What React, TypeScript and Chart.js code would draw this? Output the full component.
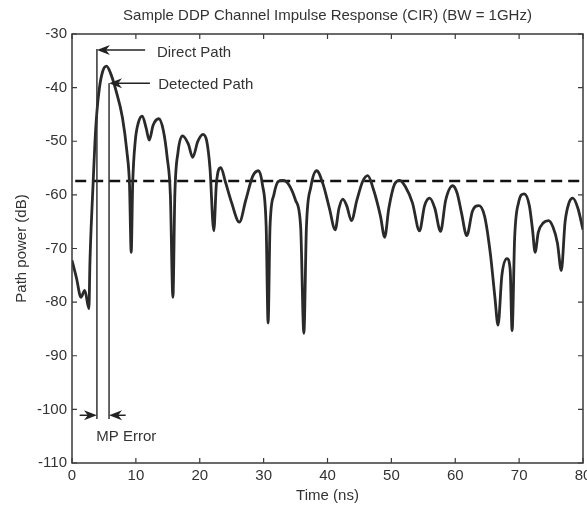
import React, { useEffect, useRef } from "react";
import { Chart, registerables } from "chart.js";

Chart.register(...registerables);

// ---- data ----
const timeNs = [
  0, 0.7, 1.4, 2.0, 2.65, 2.8, 3.0, 3.3, 3.6, 3.9, 4.3, 4.8, 5.4, 6.0, 6.9, 7.9, 8.6, 9.0, 9.27, 9.5,
  9.9, 10.4, 11.0, 11.6, 12.1, 12.7, 13.6, 14.3, 14.9, 15.4, 15.8, 16.1, 16.6, 17.3, 18.2, 18.9, 19.7,
  20.5, 21.1, 21.6, 22.2, 22.6, 23.3, 24.0, 25.0, 26.2, 27.2, 28.3, 29.2, 29.8, 30.4, 30.7, 31.0, 31.6,
  32.3, 33.0, 34.0, 35.0, 35.8, 36.3, 36.7, 37.4, 38.3, 39.3, 40.3, 41.2, 41.8, 42.4, 43.0, 43.75, 44.6,
  45.5, 46.3, 47.2, 48.3, 48.95, 49.6, 50.5, 51.3, 52.2, 53.3, 54.4, 55.2, 56.0, 56.8, 57.7, 58.5, 59.6,
  60.3, 61.0, 61.8, 62.7, 63.7, 64.6, 65.5, 66.2, 66.7, 67.3, 68.1, 68.6, 68.9, 69.3, 69.9, 70.8, 71.6,
  72.1, 72.5, 73.0, 73.8, 74.6, 75.3, 76.0, 76.6, 77.2, 77.8, 78.4, 79.2, 80.0,
];
const powerDb = [
  -72.2, -75.5, -79.1, -77.8, -81.2, -73, -66, -58, -50, -44.5, -40, -37, -36, -37.2, -40.6, -45.6, -52,
  -58, -70.7, -58, -50, -46.5, -45.3, -47.5, -49.8, -47, -45.8, -48, -53, -60, -79.1, -60, -52, -49,
  -50.5, -53, -50, -48.7, -50, -55, -66.7, -58, -54.9, -57.5, -61.5, -65.1, -61, -56.5, -55.5, -58, -66,
  -83.9, -66, -60, -57.5, -57.3, -58.2, -61, -66, -85.8, -66, -58.5, -55.5, -58, -62.5, -66.5, -62.5,
  -60.8, -62, -64.8, -61, -57.5, -56.4, -59, -64, -67.9, -62.5, -58, -57.3, -58.5, -61.5, -66.7, -62,
  -60.6, -62.5, -66.8, -61, -58.3, -59.7, -63.5, -67.6, -63, -62, -64, -71, -79, -84.3, -75, -71.9, -74,
  -85.3, -68, -61.5, -59.8, -62, -66.5, -70.7, -67, -65.2, -64.8, -66, -69, -74.1, -65, -61.5, -60.6,
  -62.5, -66.5,
];
const thresholdDb = -57.4;
const directPathNs = 3.9;
const detectedPathNs = 5.8;
const xTickValues = [0, 10, 20, 30, 40, 50, 60, 70, 80];
const yTickValues = [-110, -100, -90, -80, -70, -60, -50, -40, -30];

const titleText = "Sample DDP Channel Impulse Response (CIR) (BW = 1GHz)";
const xTitle = "Time (ns)";
const yTitle = "Path power (dB)";
const directLabel = "Direct Path";
const detectedLabel = "Detected Path";
const mpErrorLabel = "MP Error";

const FONT = "'Liberation Sans', Arial, sans-serif";
const TEXT = "#333333";
const FS = 15;

function drawArrow(ctx: CanvasRenderingContext2D, x1: number, y1: number, x2: number, y2: number) {
  // tail (x1,y1) -> tip (x2,y2)
  const ang = Math.atan2(y2 - y1, x2 - x1);
  const len = 13;
  const hw = 5;
  ctx.beginPath();
  ctx.moveTo(x1, y1);
  ctx.lineTo(x2 - Math.cos(ang) * 6, y2 - Math.sin(ang) * 6);
  ctx.stroke();
  const bx = x2 - Math.cos(ang) * len;
  const by = y2 - Math.sin(ang) * len;
  const nx = -Math.sin(ang);
  const ny = Math.cos(ang);
  const mx = x2 - Math.cos(ang) * len * 0.7;
  const my = y2 - Math.sin(ang) * len * 0.7;
  ctx.beginPath();
  ctx.moveTo(x2, y2);
  ctx.lineTo(bx + nx * hw, by + ny * hw);
  ctx.lineTo(mx, my);
  ctx.lineTo(bx - nx * hw, by - ny * hw);
  ctx.closePath();
  ctx.fill();
}

const framePlugin = {
  id: "matlabFrame",
  afterDatasetsDraw(chart: any) {
    const { ctx, chartArea } = chart;
    const xs = chart.scales.x;
    const ys = chart.scales.y;
    const { left, right, top, bottom } = chartArea;
    ctx.save();
    // title centred over the plot box
    ctx.fillStyle = TEXT;
    ctx.font = `${FS}px ${FONT}`;
    ctx.textAlign = "center";
    ctx.textBaseline = "middle";
    ctx.fillText(titleText, (left + right) / 2, 16);

    // frame
    ctx.strokeStyle = "#3a3a3a";
    ctx.lineWidth = 1.5;
    ctx.strokeRect(left, top, right - left, bottom - top);
    // inward ticks
    ctx.lineWidth = 1.2;
    const tl = 5;
    xTickValues.forEach((v) => {
      const px = xs.getPixelForValue(v);
      ctx.beginPath();
      ctx.moveTo(px, bottom);
      ctx.lineTo(px, bottom - tl);
      ctx.moveTo(px, top);
      ctx.lineTo(px, top + tl);
      ctx.stroke();
    });
    yTickValues.forEach((v) => {
      const py = ys.getPixelForValue(v);
      ctx.beginPath();
      ctx.moveTo(left, py);
      ctx.lineTo(left + tl, py);
      ctx.moveTo(right, py);
      ctx.lineTo(right - tl, py);
      ctx.stroke();
    });

    // annotations
    ctx.strokeStyle = "#222";
    ctx.fillStyle = "#222";
    ctx.lineWidth = 1.5;
    const dpx = xs.getPixelForValue(directPathNs);
    const tpx = xs.getPixelForValue(detectedPathNs);
    drawArrow(ctx, xs.getPixelForValue(11.45), ys.getPixelForValue(-33.0), dpx, ys.getPixelForValue(-33.0));
    drawArrow(ctx, xs.getPixelForValue(12.2), ys.getPixelForValue(-39.2), tpx, ys.getPixelForValue(-39.2));
    drawArrow(ctx, xs.getPixelForValue(1.2), ys.getPixelForValue(-101.1), dpx, ys.getPixelForValue(-101.1));
    drawArrow(ctx, xs.getPixelForValue(8.4), ys.getPixelForValue(-101.1), tpx, ys.getPixelForValue(-101.1));

    ctx.fillStyle = TEXT;
    ctx.font = `${FS}px ${FONT}`;
    ctx.textAlign = "left";
    ctx.textBaseline = "middle";
    ctx.fillText(directLabel, xs.getPixelForValue(13.3), ys.getPixelForValue(-33.5));
    ctx.fillText(detectedLabel, xs.getPixelForValue(13.5), ys.getPixelForValue(-39.5));
    ctx.fillText(mpErrorLabel, xs.getPixelForValue(3.8), ys.getPixelForValue(-105.2));
    ctx.restore();
  },
};

export default function App() {
  const ref = useRef<HTMLCanvasElement | null>(null);
  useEffect(() => {
    document.body.style.margin = "0";
    const canvas = ref.current;
    if (!canvas) return;
    const curve = timeNs.map((t, i) => ({ x: t, y: powerDb[i] }));
    const threshold = [
      { x: 0.5, y: thresholdDb },
      { x: 80, y: thresholdDb },
    ];
    const directLine = [
      { x: directPathNs, y: -32.8 },
      { x: directPathNs, y: -101.8 },
    ];
    const detectedLine = [
      { x: detectedPathNs, y: -39.2 },
      { x: detectedPathNs, y: -101.8 },
    ];
    const chart = new Chart(canvas, {
      type: "line",
      data: {
        datasets: [
          {
            data: directLine,
            borderColor: "#333",
            borderWidth: 1.5,
            pointRadius: 0,
          },
          {
            data: detectedLine,
            borderColor: "#333",
            borderWidth: 1.5,
            pointRadius: 0,
          },
          {
            data: curve,
            borderColor: "#2a2a2a",
            borderWidth: 2.8,
            pointRadius: 0,
            cubicInterpolationMode: "monotone",
          },
          {
            data: threshold,
            borderColor: "#111",
            borderWidth: 2.6,
            borderDash: [11, 6],
            pointRadius: 0,
          },
        ],
      },
      options: {
        responsive: false,
        animation: false,
        layout: { padding: { left: 0, right: 4, top: 34, bottom: 0 } },
        plugins: {
          legend: { display: false },
          tooltip: { enabled: false },
          title: { display: false },
        },
        scales: {
          x: {
            type: "linear",
            min: 0,
            max: 80,
            grid: { display: false, drawTicks: false },
            border: { display: false },
            ticks: {
              stepSize: 10,
              autoSkip: false,
              maxRotation: 0,
              padding: 4,
              color: TEXT,
              font: { family: FONT, size: FS },
            },
            title: {
              display: true,
              text: xTitle,
              color: TEXT,
              font: { family: FONT, size: FS },
              padding: { top: 0, bottom: 1 },
            },
            afterFit(scale: any) {
              scale.height = 43;
              scale.paddingLeft = 0;
              scale.paddingRight = 0;
            },
          },
          y: {
            type: "linear",
            min: -110,
            max: -30,
            grid: { display: false, drawTicks: false },
            border: { display: false },
            ticks: {
              stepSize: 10,
              autoSkip: false,
              padding: 5,
              color: TEXT,
              font: { family: FONT, size: FS },
            },
            title: {
              display: true,
              text: yTitle,
              color: TEXT,
              font: { family: FONT, size: FS },
              padding: { top: 13, bottom: 0 },
            },
            afterFit(scale: any) {
              scale.width = 72;
              scale.paddingTop = 0;
              scale.paddingBottom = 0;
            },
          },
        },
      },
      plugins: [framePlugin],
    });
    return () => chart.destroy();
  }, []);
  return (
    <div style={{ position: "absolute", left: 0, top: 0, width: 587, height: 506, background: "#fff" }}>
      <canvas ref={ref} width={587} height={506} />
    </div>
  );
}
